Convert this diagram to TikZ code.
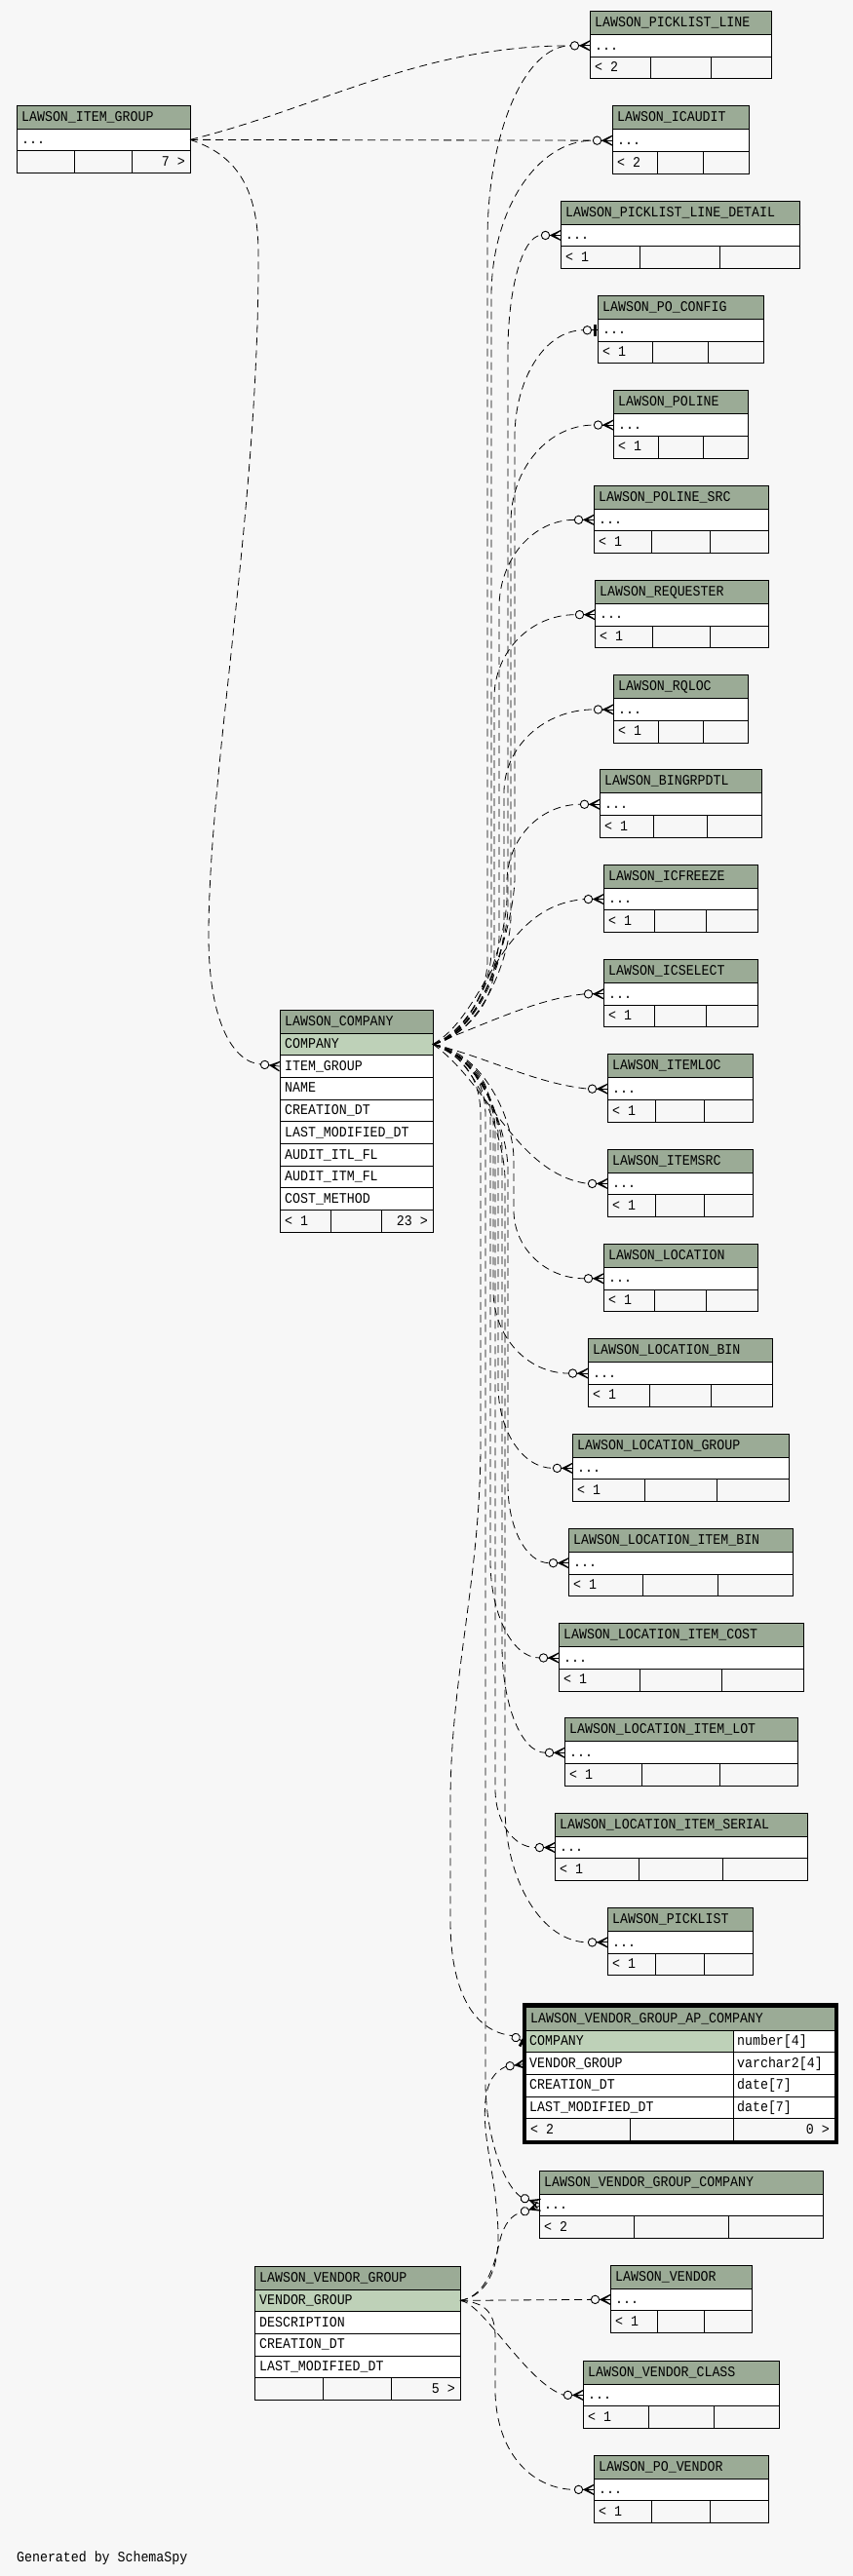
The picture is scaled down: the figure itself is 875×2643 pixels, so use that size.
\documentclass[tikz,border=0pt]{standalone}
\usepackage{fontspec}
\newfontfamily\tfont{Liberation Mono}[FakeStretch=0.89]
\usetikzlibrary{calc}
\definecolor{bgc}{HTML}{F7F7F7}
\definecolor{hdr}{HTML}{9BAB96}
\definecolor{pkc}{HTML}{BED1B8}
\tikzset{
  cell/.style={draw=black, line width=1pt, inner sep=0pt, outer sep=0pt, anchor=north west},
  txt/.style={font=\tfont\fontsize{14.9pt}{16pt}\selectfont, inner sep=0pt, anchor=base west},
  txtr/.style={font=\tfont\fontsize{14.9pt}{16pt}\selectfont, inner sep=0pt, anchor=base east},
  conn/.style={line width=0.8pt, dash pattern=on 8pt off 5pt},
}
% end markers: #1 x, #2 y (edge point), #3 angle, #4 name of connector end
\newcommand\crowmk[4]{%
  \begin{scope}[shift={(#1,#2)}, rotate=#3]
    \coordinate (#4) at (-19.7,0);
    \draw[line width=0.9pt, fill=bgc] (-15.5,0) circle (4.2pt);
    \fill (-11.3,0) -- (0,-5.5) -- (0,-4.2) -- (-6.5,0) -- (0,4.2) -- (0,5.5) -- cycle;
    \draw[line width=0.8pt] (-11.3,0) -- (0,0);
  \end{scope}}
\newcommand\teemk[4]{%
  \begin{scope}[shift={(#1,#2)}, rotate=#3]
    \coordinate (#4) at (-14.8,0);
    \draw[line width=0.9pt, fill=bgc] (-10.6,0) circle (4.2pt);
    \draw[line width=0.9pt] (-6.4,0) -- (0,0);
    \fill (-4.3,-6) rectangle (-1.5,6);
  \end{scope}}
\newcommand\nonemk[4]{}
% small table: #1 id, #2 title, #3 top, #4 left, #5 right, #6 footer text, #7 marker kind
\newcommand\rtab[7]{%
  \pgfmathsetmacro\tw{#5-#4}%
  \pgfmathsetmacro\ra{#3+24}%
  \pgfmathsetmacro\rb{#3+46.7}%
  \pgfmathsetmacro\rc{#3+69.4}%
  \pgfmathsetmacro\cy{#3+35.35}%
  \pgfmathsetmacro\da{#4+\tw/3}%
  \pgfmathsetmacro\db{#4+2*\tw/3}%
  \node[cell, fill=hdr, minimum width=\tw pt, minimum height=24pt] (#1h) at (#4,#3) {};
  \node[cell, fill=white, minimum width=\tw pt, minimum height=22.7pt] (#1r) at (#4,\ra) {};
  \node[cell, fill=bgc, minimum width=\tw pt, minimum height=22.7pt] (#1f) at (#4,\rb) {};
  \draw[line width=1pt] (\da,\rb) -- (\da,\rc) (\db,\rb) -- (\db,\rc);
  \node[txt] (#1ht) at (#4+5,#3+16) {#2};
  \node[txt] (#1rt) at (#4+5,\cy+4.2) {...};
  \node[txt] (#1ft) at (#4+5,\rb+15.55) {#6};
  \csname #7mk\endcsname{#4}{\cy}{0}{#1e}%
}
% connectors from LAWSON_COMPANY.COMPANY running up / down the bundle
% #1 target id, #2 x of the vertical run, #3 height of the final bend, #4 height where the run starts
\newcommand\upc[4]{%
  \draw[conn] let \p1=(#1e) in (cmpk.east) .. controls (#2-30,1062) and (#2,#4+40) .. (#2,#4)
    -- ({#2pt},{\y1-#3pt}) .. controls ({#2pt},{\y1-0.448*#3pt}) and ({\x1-0.552*(\x1-#2pt)},\y1) .. (#1e);}
\newcommand\dnc[4]{%
  \draw[conn] let \p1=(#1e) in (cmpk.east) .. controls (#2-30,1080) and (#2,#4-40) .. (#2,#4)
    -- ({#2pt},{\y1+#3pt}) .. controls ({#2pt},{\y1+0.448*#3pt}) and ({\x1-0.552*(\x1-#2pt)},\y1) .. (#1e);}
\begin{document}
\begin{tikzpicture}[x=1pt, y=-1pt]
\useasboundingbox (0,0) rectangle (875,2643);
\fill[bgc] (0,0) rectangle (875,2643);

% ---------- right column tables ----------
\rtab{t1}{LAWSON\_PICKLIST\_LINE}{11.5}{605}{791}{< 2}{crow}
\rtab{t2}{LAWSON\_ICAUDIT}{108.8}{628}{768}{< 2}{crow}
\rtab{t3}{LAWSON\_PICKLIST\_LINE\_DETAIL}{206.1}{575}{820}{< 1}{crow}
\rtab{t4}{LAWSON\_PO\_CONFIG}{303.4}{613}{783}{< 1}{tee}
\rtab{t5}{LAWSON\_POLINE}{400.7}{629}{767}{< 1}{crow}
\rtab{t6}{LAWSON\_POLINE\_SRC}{498}{609}{788}{< 1}{crow}
\rtab{t7}{LAWSON\_REQUESTER}{595.3}{610}{788}{< 1}{crow}
\rtab{t8}{LAWSON\_RQLOC}{692.6}{629}{767}{< 1}{crow}
\rtab{t9}{LAWSON\_BINGRPDTL}{789.9}{615}{781}{< 1}{crow}
\rtab{t10}{LAWSON\_ICFREEZE}{887.2}{619}{777}{< 1}{crow}
\rtab{t11}{LAWSON\_ICSELECT}{984.5}{619}{777}{< 1}{crow}
\rtab{t12}{LAWSON\_ITEMLOC}{1081.8}{623}{772}{< 1}{crow}
\rtab{t13}{LAWSON\_ITEMSRC}{1179.1}{623}{772}{< 1}{crow}
\rtab{t14}{LAWSON\_LOCATION}{1276.4}{619}{777}{< 1}{crow}
\rtab{t15}{LAWSON\_LOCATION\_BIN}{1373.7}{603}{792}{< 1}{crow}
\rtab{t16}{LAWSON\_LOCATION\_GROUP}{1471}{587}{809}{< 1}{crow}
\rtab{t17}{LAWSON\_LOCATION\_ITEM\_BIN}{1568.3}{583}{813}{< 1}{crow}
\rtab{t18}{LAWSON\_LOCATION\_ITEM\_COST}{1665.6}{573}{824}{< 1}{crow}
\rtab{t19}{LAWSON\_LOCATION\_ITEM\_LOT}{1762.9}{579}{818}{< 1}{crow}
\rtab{t20}{LAWSON\_LOCATION\_ITEM\_SERIAL}{1860.2}{569}{828}{< 1}{crow}
\rtab{t21}{LAWSON\_PICKLIST}{1957.5}{623}{772}{< 1}{crow}
\rtab{t22}{LAWSON\_VENDOR\_GROUP\_COMPANY}{2227}{553}{844}{< 2}{none}
\rtab{t23}{LAWSON\_VENDOR}{2324}{626}{771}{< 1}{crow}
\rtab{t24}{LAWSON\_VENDOR\_CLASS}{2422}{598}{799}{< 1}{crow}
\rtab{t25}{LAWSON\_PO\_VENDOR}{2519}{609}{788}{< 1}{crow}
\crowmk{553}{2261}{-20}{vcE1}
\crowmk{553}{2263.5}{20}{vcE2}

% ---------- LAWSON_ITEM_GROUP ----------
\node[cell, fill=hdr, minimum width=178pt, minimum height=24pt] (igh) at (17,108) {};
\node[txt] (ight) at (22,124) {LAWSON\_ITEM\_GROUP};
\node[cell, fill=white, minimum width=178pt, minimum height=22.7pt] (igr) at (17,132) {};
\node[txt] (igrt) at (22,147.55) {...};
\node[cell, fill=bgc, minimum width=178pt, minimum height=22.7pt] (igf) at (17,154.7) {};
\draw[line width=1pt] (76.3,154.7) -- (76.3,177.4) (135.7,154.7) -- (135.7,177.4);
\node[txtr] (igft) at (190,170.25) {7 >};

% ---------- LAWSON_COMPANY ----------
\node[cell, fill=hdr, minimum width=157pt, minimum height=24pt] (cmph) at (287,1036) {};
\node[txt] (cmpht) at (292,1052) {LAWSON\_COMPANY};
\node[cell, fill=pkc, minimum width=157pt, minimum height=22.7pt] (cmpk) at (287,1060) {};
\node[txt] (cmpkt) at (292,1075.55) {COMPANY};
\foreach \nm [count=\k] in {ITEM\_GROUP, NAME, CREATION\_DT, LAST\_MODIFIED\_DT, AUDIT\_ITL\_FL, AUDIT\_ITM\_FL, COST\_METHOD} {
  \pgfmathsetmacro\yy{1060+22.7*\k}
  \node[cell, fill=white, minimum width=157pt, minimum height=22.7pt] (cmp\k) at (287,\yy) {};
  \node[txt] (cmpt\k) at (292,\yy+15.55) {\nm};
}
\node[cell, fill=bgc, minimum width=157pt, minimum height=22.7pt] (cmpf) at (287,1241.6) {};
\draw[line width=1pt] (339.3,1241.6) -- (339.3,1264.3) (391.7,1241.6) -- (391.7,1264.3);
\node[txt] (cmpft1) at (292,1257.15) {< 1};
\node[txtr] (cmpft2) at (439,1257.15) {23 >};
\crowmk{287}{1094.05}{-6}{cmpig}

% ---------- LAWSON_VENDOR_GROUP ----------
\node[cell, fill=hdr, minimum width=211pt, minimum height=24pt] (vgh) at (261,2325) {};
\node[txt] (vght) at (266,2341) {LAWSON\_VENDOR\_GROUP};
\node[cell, fill=pkc, minimum width=211pt, minimum height=22.7pt] (vgk) at (261,2349) {};
\node[txt] (vgkt) at (266,2364.55) {VENDOR\_GROUP};
\foreach \nm [count=\k] in {DESCRIPTION, CREATION\_DT, LAST\_MODIFIED\_DT} {
  \pgfmathsetmacro\yy{2349+22.7*\k}
  \node[cell, fill=white, minimum width=211pt, minimum height=22.7pt] (vg\k) at (261,\yy) {};
  \node[txt] (vgt\k) at (266,\yy+15.55) {\nm};
}
\node[cell, fill=bgc, minimum width=211pt, minimum height=22.7pt] (vgf) at (261,2439.8) {};
\draw[line width=1pt] (331.3,2439.8) -- (331.3,2462.5) (401.7,2439.8) -- (401.7,2462.5);
\node[txtr] (vgft) at (467,2455.35) {5 >};

% ---------- LAWSON_VENDOR_GROUP_AP_COMPANY ----------
\node[cell, fill=hdr, minimum width=317pt, minimum height=24pt] (vah) at (539,2059) {};
\node[txt] (vaht) at (544,2075) {LAWSON\_VENDOR\_GROUP\_AP\_COMPANY};
\foreach \nm/\ty/\fc [count=\k] in {COMPANY/number[4]/pkc, VENDOR\_GROUP/varchar2[4]/white, CREATION\_DT/date[7]/white, LAST\_MODIFIED\_DT/date[7]/white} {
  \pgfmathsetmacro\yy{2083+22.7*(\k-1)}
  \node[cell, fill=\fc, minimum width=213pt, minimum height=22.7pt] (van\k) at (539,\yy) {};
  \node[cell, fill=white, minimum width=104pt, minimum height=22.7pt] (vat\k) at (752,\yy) {};
  \node[txt] (vant\k) at (543,\yy+15.55) {\nm};
  \node[txt] (vatt\k) at (756,\yy+15.55) {\ty};
}
\node[cell, fill=bgc, minimum width=317pt, minimum height=22.7pt] (vaf) at (539,2173.8) {};
\draw[line width=1pt] (646,2173.8) -- (646,2196.5) (752,2173.8) -- (752,2196.5);
\node[txt] (vaft1) at (544,2189.35) {< 2};
\node[txtr] (vaft2) at (851,2189.35) {0 >};
\draw[line width=3.5pt] (537.5,2057) rectangle (858,2198);
\teemk{538.5}{2095.5}{-28}{vaE1}
\crowmk{538.5}{2117.5}{8}{vaE2}

% ---------- connectors from LAWSON_ITEM_GROUP ----------
\draw[conn] (igr.east) .. controls (330,110) and (430,47) .. (t1e);
\draw[conn] (igr.east) -- (t2e);
\draw[conn] (igr.east) .. controls (240,158) and (265,190) .. (265,260)
  .. controls (266,520) and (214,790) .. (214,960) .. controls (214,1050) and (240,1090) .. (cmpig);

% ---------- connectors from LAWSON_COMPANY ----------
\upc{t1}{500}{200}{985}
\upc{t2}{504}{160}{975}
\upc{t3}{521}{120}{930}
\upc{t4}{528}{110}{900}
\upc{t5}{524}{100}{940}
\upc{t6}{512}{90}{960}
\upc{t7}{507}{85}{990}
\upc{t8}{517}{85}{950}
\upc{t9}{520}{80}{920}
\draw[conn] (cmpk.east) .. controls (500,1040) and (510,930) .. (t10e);
\draw[conn] (cmpk.east) .. controls (500,1050) and (550,1025) .. (t11e);
\draw[conn] (cmpk.east) .. controls (500,1085) and (550,1112) .. (t12e);
\draw[conn] (cmpk.east) .. controls (500,1110) and (530,1205) .. (t13e);
\dnc{t14}{527}{70}{1190}
\dnc{t15}{506}{85}{1150}
\dnc{t16}{511}{85}{1165}
\dnc{t17}{521}{80}{1200}
\dnc{t18}{503}{100}{1140}
\dnc{t19}{515}{110}{1180}
\dnc{t20}{508}{60}{1160}
\dnc{t21}{518}{140}{1210}
\draw[conn] (cmpk.east) .. controls (470,1082) and (493,1100) .. (493,1145) -- (493,1480)
  .. controls (493,1620) and (462,1720) .. (462,1850) -- (462,1970)
  .. controls (462,2050) and (490,2085) .. (vaE1);
\draw[conn] (cmpk.east) .. controls (472,1082) and (498,1100) .. (498,1145) -- (498,2140)
  .. controls (499,2190) and (515,2240) .. (vcE1);

% ---------- connectors from LAWSON_VENDOR_GROUP ----------
\draw[conn] (vgk.east) .. controls (498,2356) and (512,2330) .. (511,2290)
  .. controls (509,2230) and (494,2195) .. (498,2155) .. controls (500,2135) and (508,2125) .. (vaE2);
\draw[conn] (vgk.east) .. controls (500,2356) and (508,2320) .. (513,2298)
  .. controls (517,2282) and (525,2272) .. (vcE2);
\draw[conn] (vgk.east) -- (t23e);
\draw[conn] (vgk.east) .. controls (495,2362) and (540,2445) .. (t24e);
\draw[conn] (vgk.east) .. controls (497,2362) and (508,2372) .. (508,2398) -- (508,2455)
  .. controls (510,2522) and (550,2554) .. (t25e);

\node[txt] (gen) at (17,2628) {Generated by SchemaSpy};
\end{tikzpicture}
\end{document}
